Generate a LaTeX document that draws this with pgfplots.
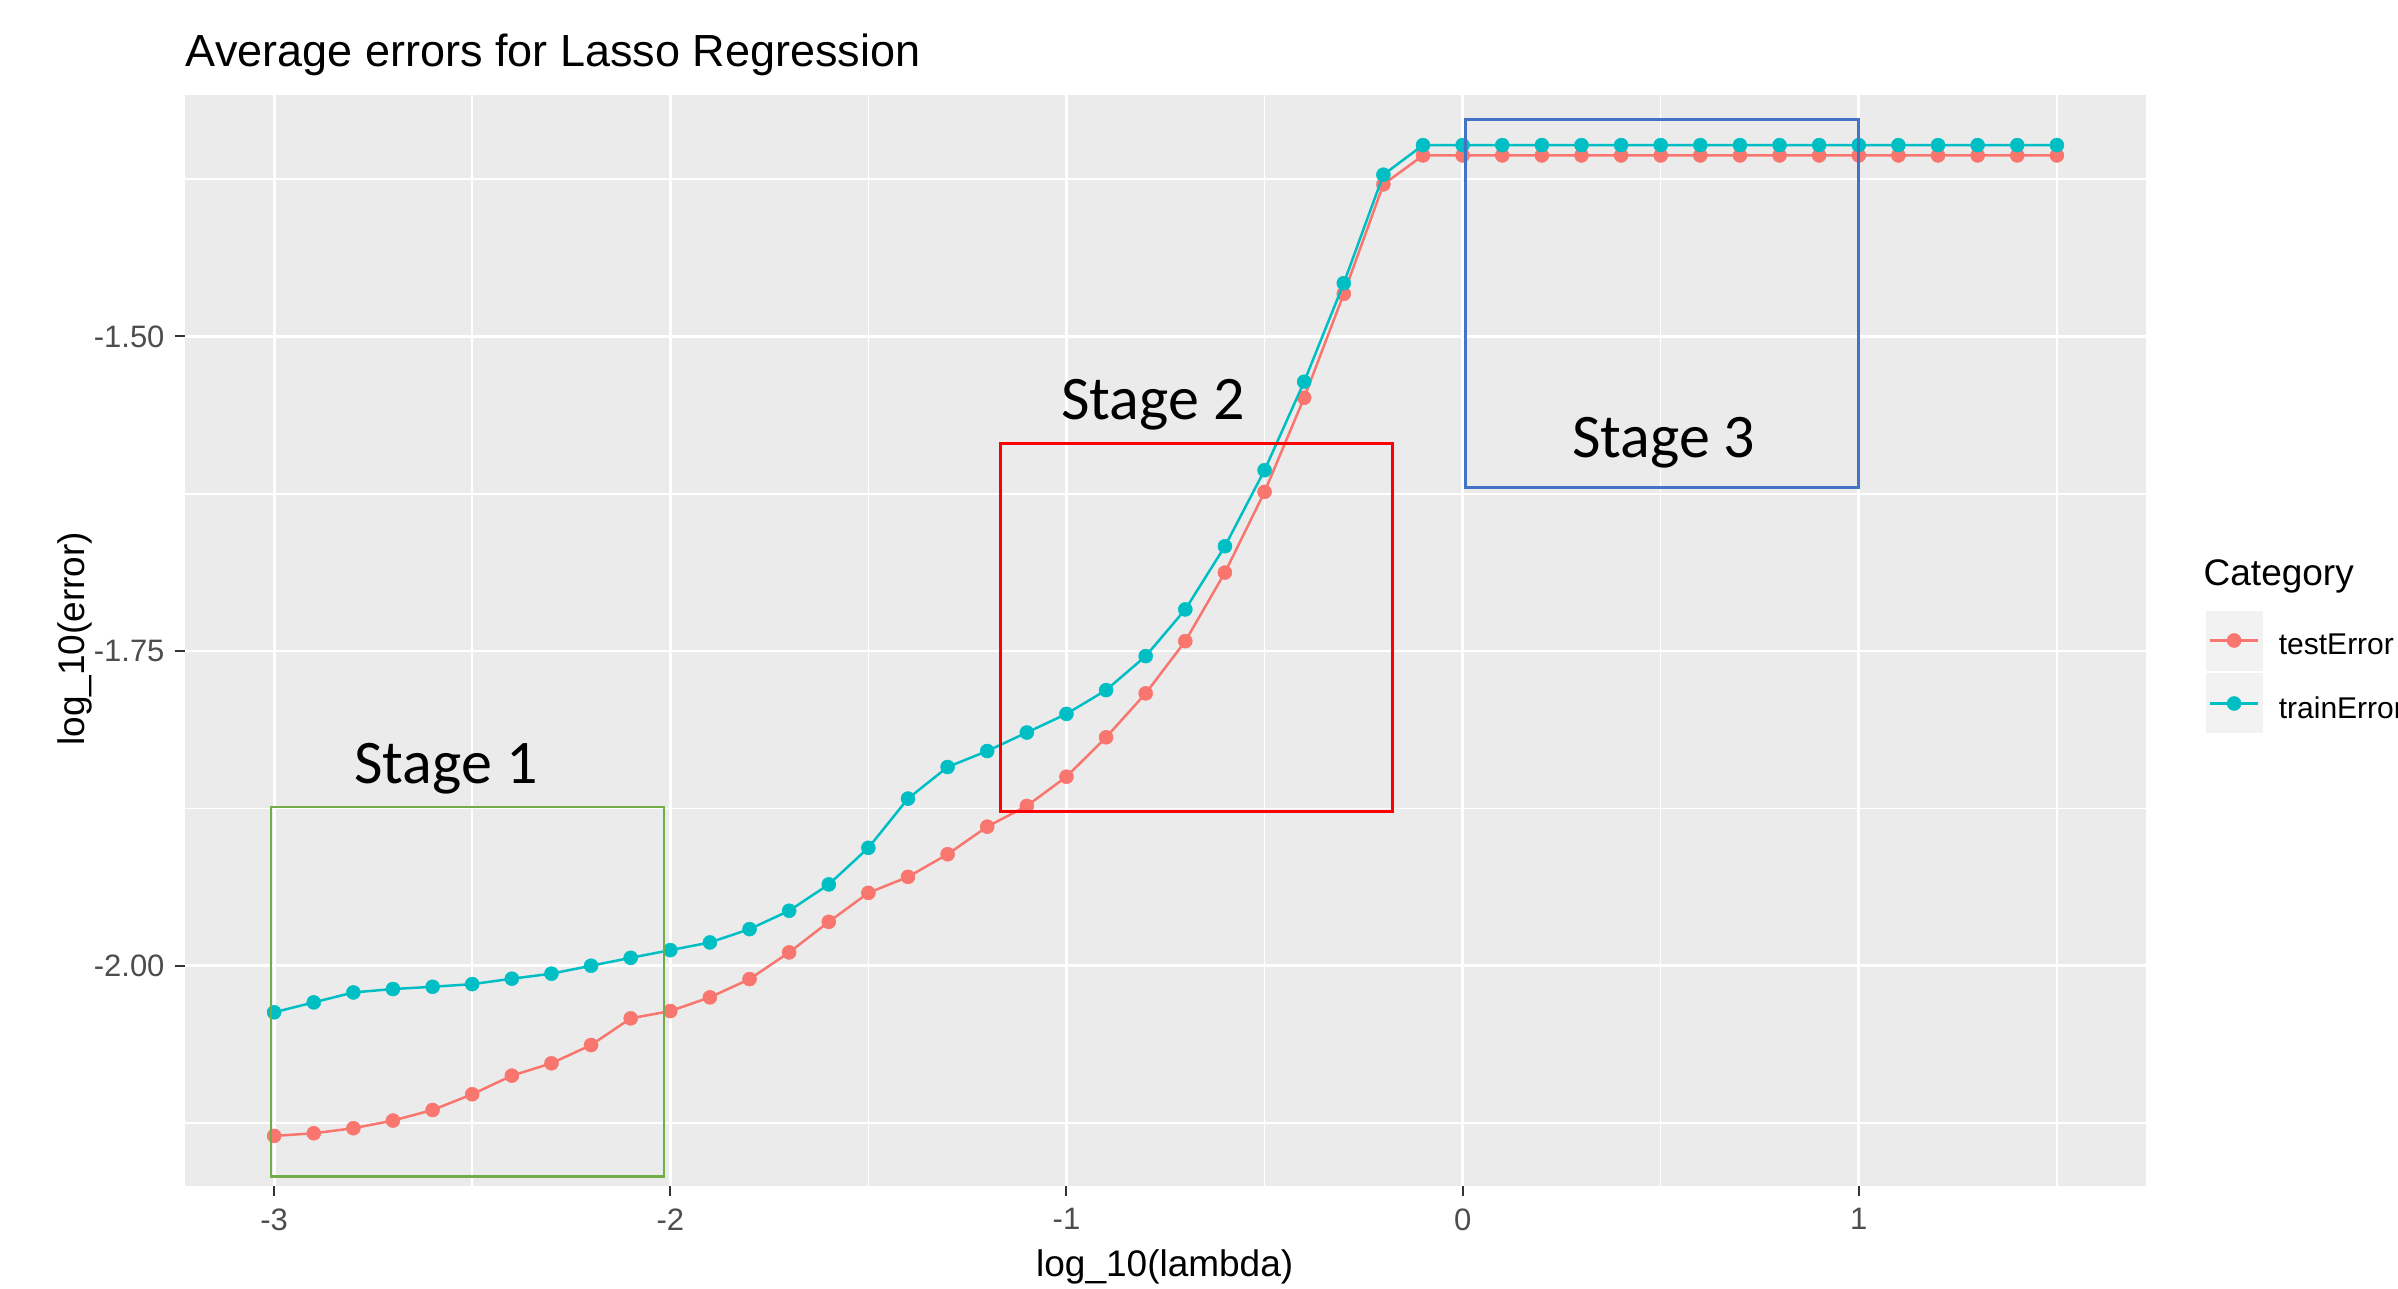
\documentclass[border=0pt]{standalone}
\usepackage{pgfplots}
\usepackage{pgfplotstable}
\pgfplotsset{compat=1.18}
\usepackage{fontspec}
\setmainfont{Liberation Sans}
\newfontfamily\carlito{Carlito}
\definecolor{testc}{HTML}{F8766D}
\definecolor{trainc}{HTML}{00BFC4}
\definecolor{panelbg}{HTML}{EBEBEB}
\definecolor{keybg}{HTML}{F2F2F2}
\definecolor{tickc}{HTML}{333333}
\definecolor{ticklab}{HTML}{4D4D4D}
\definecolor{boxg}{HTML}{70AD47}
\definecolor{boxr}{HTML}{FF0000}
\definecolor{boxb}{HTML}{4472C4}

\pgfplotstableread{
x test train
-3.0 -2.1352 -2.0370
-2.9 -2.1331 -2.0291
-2.8 -2.1291 -2.0212
-2.7 -2.1230 -2.0185
-2.6 -2.1146 -2.0167
-2.5 -2.1021 -2.0146
-2.4 -2.0873 -2.0103
-2.3 -2.0775 -2.0063
-2.2 -2.0630 -2.0000
-2.1 -2.0418 -1.9937
-2.0 -2.0360 -1.9876
-1.9 -2.0251 -1.9815
-1.8 -2.0106 -1.9709
-1.7 -1.9894 -1.9563
-1.6 -1.9651 -1.9354
-1.5 -1.9421 -1.9063
-1.4 -1.9294 -1.8672
-1.3 -1.9114 -1.8421
-1.2 -1.8895 -1.8294
-1.1 -1.8730 -1.8147
-1.0 -1.8498 -1.7999
-0.9 -1.8185 -1.7810
-0.8 -1.7836 -1.7540
-0.7 -1.7421 -1.7169
-0.6 -1.6876 -1.6667
-0.5 -1.6235 -1.6063
-0.4 -1.5487 -1.5360
-0.3 -1.4662 -1.4577
-0.2 -1.3792 -1.3715
-0.1 -1.3562 -1.3480
0.0 -1.3562 -1.3480
0.1 -1.3562 -1.3480
0.2 -1.3562 -1.3480
0.3 -1.3562 -1.3480
0.4 -1.3562 -1.3480
0.5 -1.3562 -1.3480
0.6 -1.3562 -1.3480
0.7 -1.3562 -1.3480
0.8 -1.3562 -1.3480
0.9 -1.3562 -1.3480
1.0 -1.3562 -1.3480
1.1 -1.3562 -1.3480
1.2 -1.3562 -1.3480
1.3 -1.3562 -1.3480
1.4 -1.3562 -1.3480
1.5 -1.3562 -1.3480
}\errdata

\begin{document}
\begin{tikzpicture}
\useasboundingbox (-37.0pt,-20.5pt) rectangle (442.6pt,237.1pt);
\clip (-37.0pt,-20.5pt) rectangle (442.6pt,237.1pt);
\begin{axis}[
  at={(0pt,0pt)}, anchor=south west,
  scale only axis, width=392.2pt, height=218.1pt,
  xmin=-3.225, xmax=1.725, ymin=-2.1746, ymax=-1.3082,
  clip mode=individual,
  axis background/.style={fill=panelbg},
  axis x line*=bottom, axis y line*=left,
  axis line style={draw=none},
  xtick={-3,-2,-1,0,1},
  xticklabels={-3,-2,-1,0,1},
  ytick={-2,-1.75,-1.5},
  yticklabels={-2.00,-1.75,-1.50},
  minor xtick={-2.5,-1.5,-0.5,0.5,1.5},
  minor ytick={-2.125,-1.875,-1.625,-1.375},
  grid=both,
  major grid style={white, line width=0.55pt},
  minor grid style={white, line width=0.3pt},
  tick align=outside,
  major tick length=2pt, minor tick length=0pt,
  tick style={tickc, line width=0.4pt},
  xticklabel style={font=\fontsize{6.2}{7}\selectfont, text=ticklab, inner sep=0pt, anchor=north, yshift=-2.4pt},
  yticklabel style={font=\fontsize{6.2}{7}\selectfont, text=ticklab, inner sep=0pt, anchor=east, xshift=-1.9pt},
  title={Average errors for Lasso Regression},
  every axis title/.style={at={(axis description cs:0,1.0266)}, anchor=base west, font=\fontsize{9}{11}\selectfont, inner sep=0pt},
  xlabel={log\_10(lambda)},
  ylabel={log\_10(error)},
  every axis x label/.style={at={(axis description cs:0.4996,-0.0743)}, anchor=center, font=\fontsize{7.4}{9}\selectfont, inner sep=0pt},
  every axis y label/.style={at={(axis description cs:-0.0562,0.5014)}, rotate=90, anchor=center, font=\fontsize{7.4}{9}\selectfont, inner sep=0pt},
  legend style={at={(axis description cs:1.0304,0.5273)}, anchor=north west, draw=none, fill=none, inner sep=0pt, outer sep=0pt, row sep=0.6pt, column sep=0pt, nodes={inner sep=0pt, font=\fontsize{6}{7}\selectfont, text=black}},
  legend cell align=left,
  legend image code/.code={
    \fill[keybg] (0pt,-4.25pt) rectangle (10.9pt,7.25pt);
    \path[draw=none,fill=none] (0pt,1.5pt) -- (14.4pt,1.5pt);
    \draw[mark repeat=2,mark phase=2,#1] plot coordinates {(0.6pt,1.5pt) (5.45pt,1.5pt) (10.3pt,1.5pt)};
  },
]
\addplot[testc, line width=0.5pt, mark=*, mark size=1.4pt, mark options={fill=testc, draw=testc, line width=0.1pt}] table[x=x, y=test] {\errdata};
\addplot[trainc, line width=0.5pt, mark=*, mark size=1.4pt, mark options={fill=trainc, draw=trainc, line width=0.1pt}] table[x=x, y=train] {\errdata};
\legend{testError,trainError}

\draw[boxg, line width=0.45pt] (axis cs:-3.0087,-1.8738) rectangle (axis cs:-2.016,-2.1675);
\draw[boxr, line width=0.6pt] (axis cs:-1.1664,-1.5847) rectangle (axis cs:-0.1765,-1.8775);
\draw[boxb, line width=0.5pt] (axis cs:0.0077,-1.3276) rectangle (axis cs:0.9987,-1.6201);

\node[font=\carlito\fontsize{12.4}{14}\selectfont, anchor=base, inner sep=0pt] at (axis cs:-2.566,-1.8553) {Stage 1};
\node[font=\carlito\fontsize{12.4}{14}\selectfont, anchor=base, inner sep=0pt] at (axis cs:-0.7815,-1.5661) {Stage 2};
\node[font=\carlito\fontsize{12.4}{14}\selectfont, anchor=base, inner sep=0pt] at (axis cs:0.5077,-1.5959) {Stage 3};

\node[anchor=base west, font=\fontsize{7.4}{9}\selectfont, inner sep=0pt] at (axis description cs:1.0289,0.5498) {Category};
\end{axis}
\end{tikzpicture}
\end{document}
